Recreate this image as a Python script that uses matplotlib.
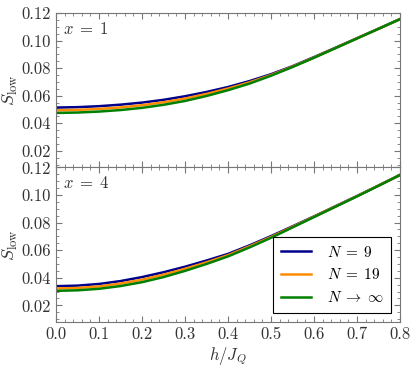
import numpy as np
import matplotlib
matplotlib.use("Agg")
import matplotlib.pyplot as plt
from matplotlib.ticker import MultipleLocator

plt.rcParams['font.family'] = 'serif'
plt.rcParams['font.serif'] = ['cmr10']
plt.rcParams['mathtext.fontset'] = 'cm'
plt.rcParams['axes.formatter.use_mathtext'] = True

h = [0.0, 0.05, 0.1, 0.15, 0.2, 0.25, 0.3, 0.35, 0.4,
     0.45, 0.5, 0.55, 0.6, 0.65, 0.7, 0.75, 0.8]

# x = 1
top_n9 = [0.0514, 0.0517, 0.0524, 0.0535, 0.0550, 0.0570, 0.0596, 0.0627, 0.0663,
          0.0706, 0.0756, 0.0814, 0.0880, 0.0948, 0.1017, 0.1086, 0.1156]
top_n19 = [0.0494, 0.0497, 0.0504, 0.0515, 0.0531, 0.0552, 0.0579, 0.0613, 0.0652,
           0.0697, 0.0750, 0.0811, 0.0877, 0.0946, 0.1016, 0.1085, 0.1155]
top_inf = [0.0475, 0.0478, 0.0485, 0.0496, 0.0512, 0.0534, 0.0562, 0.0598, 0.0640,
           0.0688, 0.0745, 0.0808, 0.0875, 0.0945, 0.1015, 0.1085, 0.1155]

# x = 4
bot_n9 = [0.0339, 0.0343, 0.0355, 0.0376, 0.0405, 0.0440, 0.0480, 0.0525, 0.0573,
          0.0635, 0.0702, 0.0773, 0.0845, 0.0919, 0.0993, 0.1069, 0.1146]
bot_n19 = [0.0322, 0.0326, 0.0337, 0.0358, 0.0386, 0.0422, 0.0465, 0.0512, 0.0564,
           0.0628, 0.0696, 0.0769, 0.0843, 0.0917, 0.0992, 0.1068, 0.1145]
bot_inf = [0.0305, 0.0309, 0.0320, 0.0340, 0.0368, 0.0405, 0.0450, 0.0500, 0.0555,
           0.0620, 0.0690, 0.0765, 0.0840, 0.0915, 0.0990, 0.1067, 0.1145]

labels = [r'$N\;=\;9$', r'$N\;=\;19$', r'$N\;\to\;\infty$']
colors = ['#00008b', '#ff8c00', '#008000']
panels = [(r'$x\;=\;1$', [top_n9, top_n19, top_inf]),
          (r'$x\;=\;4$', [bot_n9, bot_n19, bot_inf])]

fig, axes = plt.subplots(2, 1, figsize=(4.15, 3.7), dpi=100, sharex=True)
fig.subplots_adjust(left=0.135, right=0.964, top=0.965, bottom=0.13, hspace=0)

for ax, (title, series) in zip(axes, panels):
    for ys, lab, c in zip(series, labels, colors):
        ax.plot(h, ys, color=c, lw=1.8, label=lab)
    ax.set_xlim(0, 0.8)
    ax.set_ylim(0.008, 0.12)
    ax.xaxis.set_major_locator(MultipleLocator(0.1))
    ax.xaxis.set_minor_locator(MultipleLocator(0.02))
    ax.yaxis.set_major_locator(MultipleLocator(0.02))
    ax.yaxis.set_minor_locator(MultipleLocator(0.005))
    ax.tick_params(which='both', direction='in', top=True, right=True,
                   color='#777777', labelsize=12, labelcolor='#333333')
    ax.tick_params(which='major', length=4)
    ax.tick_params(which='minor', length=2)
    for s in ax.spines.values():
        s.set_color('#777777')
    ax.set_ylabel(r'$S_{\rm low}$', fontsize=13, color='#333333', labelpad=1)
    ax.text(0.02, 0.95, title, transform=ax.transAxes, ha='left', va='top',
            fontsize=12, color='#333333')
    ax.yaxis.set_major_formatter(matplotlib.ticker.FormatStrFormatter('%.2f'))

axes[1].xaxis.set_major_formatter(matplotlib.ticker.FormatStrFormatter('%.1f'))
axes[1].set_xlabel(r'$h/J_Q$', fontsize=12, color='#333333', labelpad=2)
leg = axes[1].legend(loc='lower right', fontsize=11, fancybox=False,
                     edgecolor='black', framealpha=1, handlelength=2.0,
                     borderpad=0.5, labelspacing=0.5, handletextpad=1.0,
                     borderaxespad=0.6)
leg.get_frame().set_linewidth(0.8)

fig.savefig('out.png', dpi=100)
